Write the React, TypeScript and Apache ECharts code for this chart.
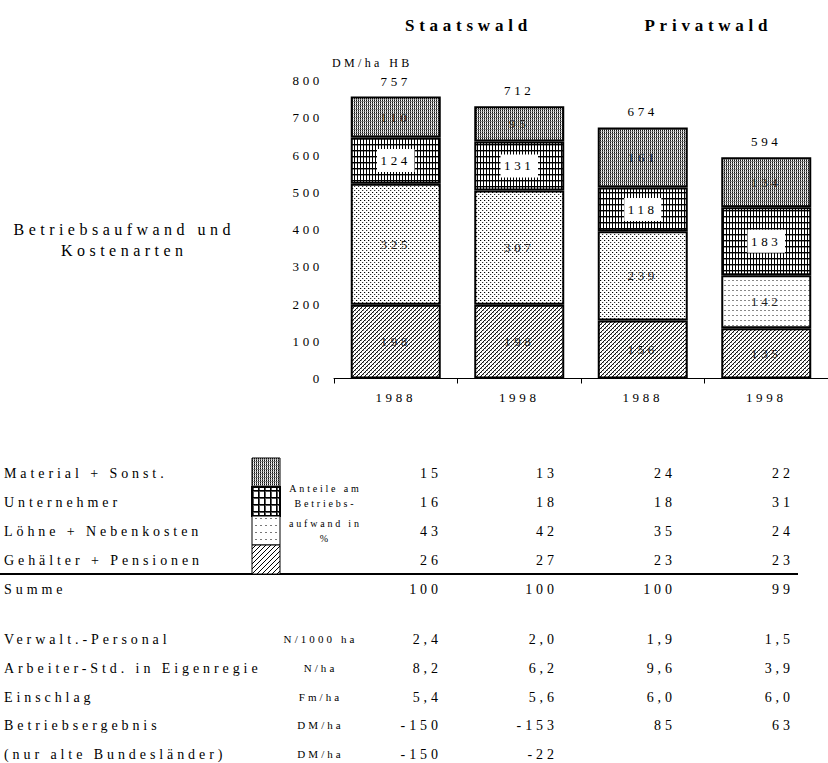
import React, { useEffect, useRef } from "react";
import * as echarts from "echarts";

// Kategorien und Gruppen
const years = ["1988", "1998", "1988", "1998"];
const groupTitles = ["Staatswald", "Privatwald"];

// Betriebsaufwand in DM/ha HB je Kostenart (von unten nach oben gestapelt)
const gehaelter = [198, 198, 156, 135];
const loehne = [325, 307, 239, 142];
const unternehmer = [124, 131, 118, 183];
const material = [110, 95, 161, 134];
const totals = [757, 712, 674, 594];

// Achse
const yMin = 0;
const yMax = 800;
const yStep = 100;

// Tabelle: Anteile am Betriebsaufwand in %
const costLabels = ["Material + Sonst.", "Unternehmer", "Löhne + Nebenkosten", "Gehälter + Pensionen"];
const shareMaterial = [15, 13, 24, 22];
const shareUnternehmer = [16, 18, 18, 31];
const shareLoehne = [43, 42, 35, 24];
const shareGehaelter = [26, 27, 23, 23];
const shareSumme = [100, 100, 100, 99];
const legendNote = ["Anteile am", "Betriebs-", "aufwand in", "%"];

// Tabelle: Kennzahlen
const kennLabels = [
  "Verwalt.-Personal",
  "Arbeiter-Std. in Eigenregie",
  "Einschlag",
  "Betriebsergebnis",
  "(nur alte Bundesländer)",
];
const kennUnits = ["N/1000 ha", "N/ha", "Fm/ha", "DM/ha", "DM/ha"];
const verwaltPersonal = [2.4, 2.0, 1.9, 1.5];
const arbeiterStd = [8.2, 6.2, 9.6, 3.9];
const einschlag = [5.4, 5.6, 6.0, 6.0];
const betriebsergebnis = [-150, -153, 85, 63];
const betriebsergebnisAlt = [-150, -22, null, null];

const FONT = "'Liberation Serif', 'Times New Roman', serif";
const LS = 0.28; // letter spacing in em, set via CSS below

type Pat = { image: HTMLCanvasElement; repeat: "repeat" };

function tile(w: number, h: number, paint: (x: number, y: number) => string | null): Pat {
  const c = document.createElement("canvas");
  c.width = w;
  c.height = h;
  const ctx = c.getContext("2d")!;
  ctx.fillStyle = "#fff";
  ctx.fillRect(0, 0, w, h);
  for (let y = 0; y < h; y++) {
    for (let x = 0; x < w; x++) {
      const col = paint(x, y);
      if (col) {
        ctx.fillStyle = col;
        ctx.fillRect(x, y, 1, 1);
      }
    }
  }
  return { image: c, repeat: "repeat" };
}

function makePatterns() {
  return {
    // fine vertical texture, medium grey
    material: tile(2, 4, (x, y) =>
      x === 0 ? (y % 2 === 0 ? "#111" : "#666") : y === 1 ? "#999" : y === 3 ? "#ccc" : null
    ),
    // dense vertical bars crossed by horizontal rules
    unternehmer: tile(3, 6, (x, y) => (x === 0 || y === 0 ? "#000" : y === 1 ? "#999" : null)),
    unternehmerKey: tile(6, 7, (x, y) => (x === 0 || y === 0 ? "#000" : x === 1 || y === 1 ? "#555" : null)),
    // staggered dot raster
    loehne: tile(4, 4, (x, y) =>
      x === 0 && y === 0 ? "#000" : x === 2 && y === 2 ? "#333" : (x === 3 && y === 2) || (x === 1 && y === 0) ? "#ccc" : null
    ),
    // dashed rows
    loehneSparse: tile(4, 5, (x, y) => (y === 0 && x < 2 ? "#888" : null)),
    loehneKey: tile(5, 7, (x, y) => (y === 0 && x < 2 ? "#777" : null)),
    // diagonal hatch
    gehaelter: tile(4, 4, (x, y) =>
      (x + y) % 4 === 0 ? "#111" : (x + y) % 4 === 1 && y % 2 === 0 ? "#888" : null
    ),
    gehaelterKey: tile(5, 5, (x, y) => ((x + y) % 5 === 0 ? "#000" : null)),
  };
}

function txt(
  text: string,
  x: number,
  y: number,
  size: number,
  align: "left" | "center" | "right" = "left",
  weight: "normal" | "bold" = "normal"
) {
  // compensate the trailing letter spacing the browser adds after the last glyph
  const sp = size * LS;
  const dx = align === "center" ? sp / 2 : align === "right" ? sp : 0;
  return {
    type: "text",
    x: x + dx,
    y,
    silent: true,
    style: {
      text,
      fill: "#000",
      font: `${weight} ${size}px ${FONT}`,
      textAlign: align,
      align,
      textVerticalAlign: "middle",
      verticalAlign: "middle",
    },
  };
}

function buildOption() {
  const P = makePatterns();

  const border = { borderColor: "#000", borderWidth: 2 };
  const inLabel = {
    show: true,
    position: "inside",
    color: "#222",
    fontFamily: FONT,
    fontSize: 13,
  };

  const graphics: any[] = [];

  // Titel
  graphics.push(txt(groupTitles[0], 466, 25, 17, "center", "bold"));
  graphics.push(txt(groupTitles[1], 706, 25, 17, "center", "bold"));
  graphics.push(txt("DM/ha HB", 332, 63, 12, "left"));
  graphics.push(txt("Betriebsaufwand und", 122, 229, 16, "center"));
  graphics.push(txt("Kostenarten", 122, 250, 16, "center"));

  // Tabelle oben
  const colRight = [438, 554, 672, 790];
  const shareRows = [shareMaterial, shareUnternehmer, shareLoehne, shareGehaelter];
  const rowY = [473, 502, 531, 560];
  costLabels.forEach((lab, r) => {
    graphics.push(txt(lab, 4, rowY[r], 14, "left"));
    shareRows[r].forEach((v, c) => graphics.push(txt(String(v), colRight[c], rowY[r], 14, "right")));
  });
  graphics.push({
    type: "line",
    silent: true,
    shape: { x1: 0, y1: 574, x2: 798, y2: 574 },
    style: { stroke: "#000", lineWidth: 2 },
  });
  graphics.push(txt("Summe", 4, 589, 14, "left"));
  shareSumme.forEach((v, c) => graphics.push(txt(String(v), colRight[c], 589, 14, "right")));

  // Musterlegende
  const keyFills = [P.material, P.unternehmerKey, P.loehneKey, P.gehaelterKey];
  const keyTop = [458, 487, 516, 545];
  keyFills.forEach((fill, i) => {
    graphics.push({
      type: "rect",
      silent: true,
      shape: { x: 252, y: keyTop[i], width: 28, height: 29 },
      style: { fill, stroke: "#000", lineWidth: i === 1 ? 2 : 1 },
    });
  });
  const noteY = [488, 503, 523, 538];
  legendNote.forEach((t, i) => graphics.push(txt(t, 324, noteY[i], 10, "center")));

  // Kennzahlen
  const fmt1 = (v: number) => v.toFixed(1).replace(".", ",");
  const kennRows: string[][] = [
    verwaltPersonal.map(fmt1),
    arbeiterStd.map(fmt1),
    einschlag.map(fmt1),
    betriebsergebnis.map(String),
    betriebsergebnisAlt.map((v) => (v === null ? "" : String(v))),
  ];
  const kennY = [639, 668, 697, 725, 754];
  kennLabels.forEach((lab, r) => {
    graphics.push(txt(lab, 4, kennY[r], 14, "left"));
    graphics.push(txt(kennUnits[r], 319, kennY[r], 11, "center"));
    kennRows[r].forEach((v, c) => {
      if (v) graphics.push(txt(v, colRight[c], kennY[r], 14, "right"));
    });
  });

  return {
    animation: false,
    backgroundColor: "#fff",
    textStyle: { fontFamily: FONT, color: "#000" },
    grid: { left: 334, top: 80.5, width: 504, height: 298 },
    xAxis: {
      type: "category",
      data: years,
      axisLine: { show: true, lineStyle: { color: "#000", width: 1 } },
      axisTick: { show: true, length: 5, lineStyle: { color: "#000" } },
      axisLabel: { color: "#000", fontFamily: FONT, fontSize: 13, margin: 12 },
      splitLine: { show: false },
    },
    yAxis: {
      type: "value",
      min: yMin,
      max: yMax,
      interval: yStep,
      axisLine: { show: false },
      axisTick: { show: false },
      splitLine: { show: false },
      axisLabel: { color: "#000", fontFamily: FONT, fontSize: 13, margin: 11 },
    },
    series: [
      {
        name: costLabels[3],
        type: "bar",
        stack: "kosten",
        barWidth: 90,
        data: gehaelter,
        itemStyle: { color: P.gehaelter, ...border },
        label: inLabel,
      },
      {
        name: costLabels[2],
        type: "bar",
        stack: "kosten",
        barWidth: 90,
        data: loehne.map((v, i) => (i === 3 ? { value: v, itemStyle: { color: P.loehneSparse } } : v)),
        itemStyle: { color: P.loehne, ...border },
        label: inLabel,
      },
      {
        name: costLabels[1],
        type: "bar",
        stack: "kosten",
        barWidth: 90,
        data: unternehmer,
        itemStyle: { color: P.unternehmer, ...border },
        label: { ...inLabel, color: "#000", backgroundColor: "#fff", padding: [5, 9] },
      },
      {
        name: costLabels[0],
        type: "bar",
        stack: "kosten",
        barWidth: 90,
        data: material,
        itemStyle: { color: P.material, ...border },
        label: inLabel,
      },
      {
        // Gesamtsumme über jedem Balken
        name: "Summe",
        type: "bar",
        stack: "kosten",
        barWidth: 90,
        data: [0, 0, 0, 0],
        itemStyle: { color: "rgba(0,0,0,0)", borderWidth: 0 },
        label: {
          show: true,
          position: "top",
          distance: 9,
          color: "#000",
          fontFamily: FONT,
          fontSize: 13,
          formatter: (p: any) => String(totals[p.dataIndex]),
        },
      },
    ],
    graphic: { elements: graphics },
  };
}

export default function App() {
  const ref = useRef<HTMLDivElement>(null);
  useEffect(() => {
    document.body.style.margin = "0";
    const chart = echarts.init(ref.current!, null, { renderer: "svg" });
    chart.setOption(buildOption() as any);
    return () => chart.dispose();
  }, []);
  return (
    <>
      <style>{`.forst-chart text { letter-spacing: ${LS}em; }`}</style>
      <div
        ref={ref}
        className="forst-chart"
        style={{ position: "absolute", left: 0, top: 0, width: 828, height: 763, background: "#fff" }}
      />
    </>
  );
}
